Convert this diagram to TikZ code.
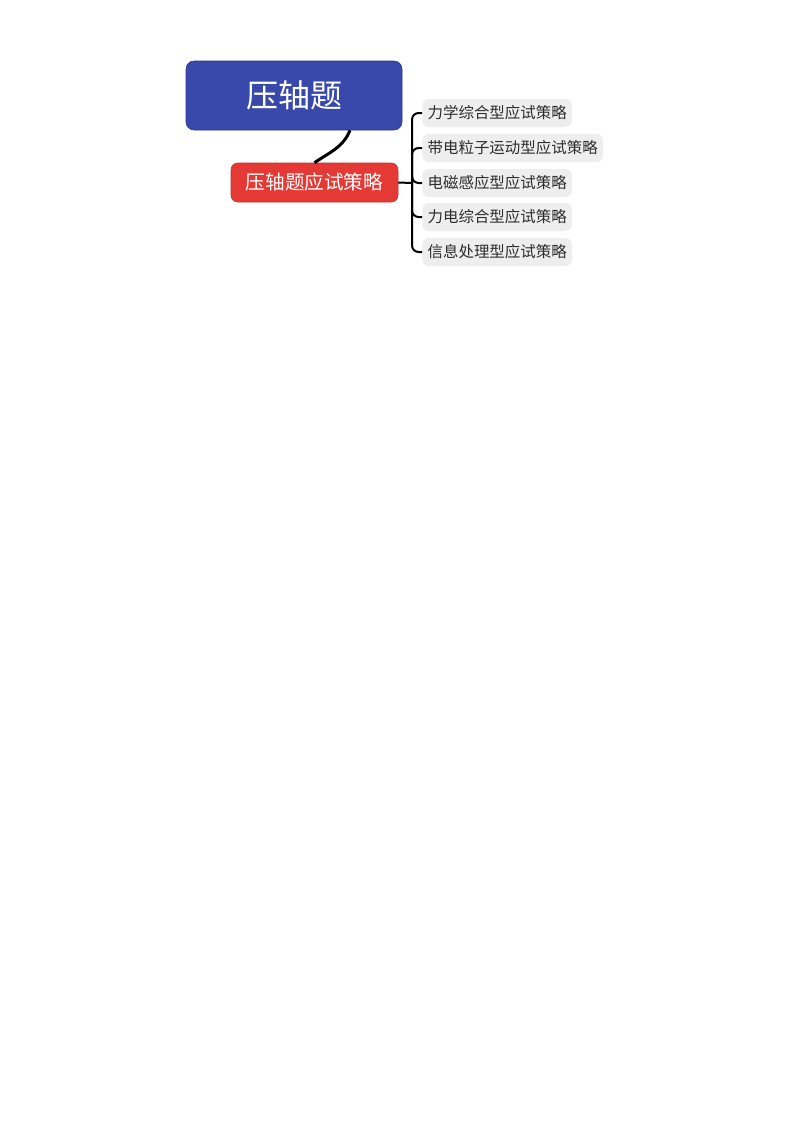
\documentclass[tikz,border=0pt]{standalone}
\usepackage{fontspec}
\usepackage{xcolor}
\usepackage{tikz}
\newfontfamily\cjk{Noto Sans CJK SC}
\definecolor{topicblue}{RGB}{57,73,171}
\definecolor{topicedge}{RGB}{40,52,140}
\definecolor{stratred}{RGB}{229,57,53}
\definecolor{leafgray}{RGB}{238,238,238}
\definecolor{leaftext}{RGB}{45,45,45}

\begin{document}
\begin{tikzpicture}[x=0.75pt,y=-0.75pt,
  topicbox/.style={draw=topicedge, fill=topicblue, rounded corners=6pt, text=white,
    minimum width=162pt, minimum height=51.75pt, font=\cjk\fontsize{24}{28}\selectfont},
  stratbox/.style={draw=stratred!85!black, fill=stratred, rounded corners=5pt, text=white,
    minimum width=125.25pt, minimum height=29.25pt, font=\cjk\fontsize{14.7}{17}\selectfont},
  leafbox/.style={fill=leafgray, rounded corners=5pt, text=leaftext, anchor=west,
    minimum height=21pt, inner xsep=4pt, font=\cjk\fontsize{11.6}{13}\selectfont},
  branch/.style={black, line width=1.5pt, rounded corners=5pt}]
\useasboundingbox (0,0) rectangle (794,1122);
\node[topicbox] (topic) at (294,95.5) {压轴题};
\node[stratbox] (strategy) at (314.5,182.5) {压轴题应试策略};
\coordinate (fork) at (412,183);
\foreach \name/\y/\txt in {c1/113/力学综合型应试策略, c2/148/带电粒子运动型应试策略,
    c3/183/电磁感应型应试策略, c4/217/力电综合型应试策略, c5/252/信息处理型应试策略}
  \node[leafbox] (\name) at (422,\y) {\txt};
\draw[black, line width=2.25pt] ([xshift=42pt]topic.south) to[out=-112, in=35] (strategy.north);
\draw[branch] (strategy.east) -- (fork);
\foreach \name in {c1,c2,c3,c4,c5}
  \draw[branch] (fork) |- (\name.west);
\end{tikzpicture}
\end{document}
